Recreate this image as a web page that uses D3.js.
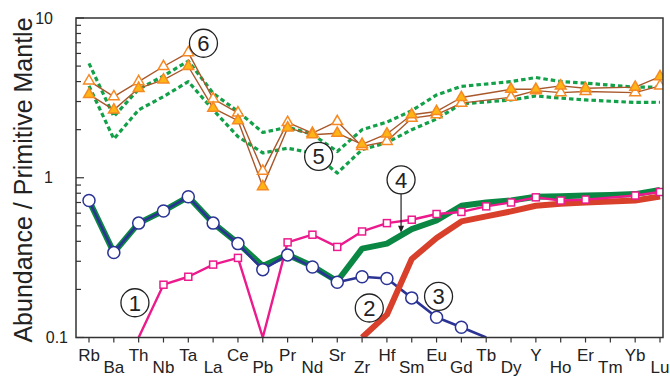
<!DOCTYPE html>
<html>
<head>
<meta charset="utf-8">
<script src="https://cdn.jsdelivr.net/npm/d3@7"></script>
<style>
    body { margin: 0; background: #fff; }
    svg { display: block; font-family: "Liberation Sans", Arial, Helvetica, sans-serif; }
</style>
</head>
<body>
<svg width="670" height="377"></svg>
<script>
// element order along the x axis
const elements = ["Rb", "Ba", "Th", "Nb", "Ta", "La", "Ce", "Pb", "Pr", "Nd", "Sr", "Zr",
                  "Hf", "Sm", "Eu", "Gd", "Tb", "Dy", "Y", "Ho", "Er", "Tm", "Yb", "Lu"];
const yTicks = [0.1, 1, 10];

// (1) pink squares
const series1 = [null, null, 0.1, 0.214, 0.24, 0.286, 0.315, 0.1, 0.394, 0.44, 0.369, 0.461,
                 0.52, 0.546, 0.593, 0.611, 0.662, 0.70, 0.754, 0.72, 0.73, null, 0.774, 0.814];
// (2) thick red
const series2 = [null, null, null, null, null, null, null, null, null, null, null, 0.1,
                 0.139, 0.31, 0.42, 0.533, 0.573, 0.616, 0.668, 0.688, 0.70, 0.71, 0.72, 0.764];
// (3) blue circles
const series3 = [0.72, 0.34, 0.52, 0.62, 0.76, 0.52, 0.387, 0.266, 0.329, 0.276, 0.222, 0.24,
                 0.234, 0.177, 0.134, 0.116, 0.1, null, null, null, null, null, null, null];
// (4) thick green
const series4 = [0.72, 0.34, 0.52, 0.62, 0.76, 0.52, 0.39, 0.28, 0.33, 0.28, 0.225, 0.36,
                 0.387, 0.477, 0.54, 0.668, 0.70, 0.72, 0.76, 0.765, 0.775, 0.78, 0.79, 0.84];
// (5) dotted green envelope
const series5a = [5.2, 2.42, 3.58, 4.34, 5.38, 3.38, 2.6, 1.92, 2.07, 1.87, 1.46, 2.0,
                  2.23, 2.63, 3.3, 3.73, null, 4.0, 4.24, 4.0, 3.91, null, 3.69, 3.69];
const series5b = [3.76, 1.75, 2.66, 3.22, 4.0, 2.66, 1.81, 1.43, 1.53, 1.43, 1.07, 1.5,
                  1.66, 2.0, 2.33, 2.9, null, 3.07, 3.25, 3.15, 3.07, null, 2.96, 2.97];
// (6) triangles, open and filled
const series6a = [4.04, 3.22, 4.0, 4.97, 6.07, 3.12, 2.55, 1.10, 2.22, 1.90, 2.25, 1.57,
                  1.69, 2.36, 2.48, 2.93, null, 3.19, 3.51, 3.41, 3.47, null, 3.41, 3.76];
const series6b = [3.33, 2.66, 3.63, 4.1, 4.97, 2.73, 2.28, 0.88, 2.05, 1.86, 1.90, 1.62,
                  1.88, 2.48, 2.6, 3.18, null, 3.58, 3.58, 3.76, 3.63, null, 3.69, 4.30];

// numbered callouts, in element-index / value units
const callouts = [
    {text: "6", i: 4.61, v: 6.95},
    {text: "5", i: 9.25, v: 1.36},
    {text: "4", i: 12.57, v: 0.97, arrowTo: 0.453},
    {text: "1", i: 1.85, v: 0.165},
    {text: "2", i: 11.29, v: 0.153},
    {text: "3", i: 14.08, v: 0.181}
];

const svg = d3.select("svg");
const margin = {left: 76, top: 18, right: 7, bottom: 39.5};
const width = 670 - margin.left - margin.right;
const height = 377 - margin.top - margin.bottom;

const g = svg.append("g").attr("transform", `translate(${margin.left},${margin.top})`);

const x = d3.scalePoint().domain(elements).range([13, 584]);
const y = d3.scaleLog().domain([0.1, 10]).range([height, 0]);
const xi = (i) => x(elements[0]) + i * x.step();

g.append("clipPath").attr("id", "plot")
    .append("rect").attr("width", width).attr("height", height);

const plot = g.append("g").attr("clip-path", "url(#plot)");

function toPoints (vals) {
    return vals.map((v, i) => ({el: elements[i], v: v})).filter(d => d.v !== null);
}

const line = d3.line().x(d => x(d.el)).y(d => y(d.v));

function drawLine (vals, color, w, dash) {
    plot.append("path")
        .attr("d", line(toPoints(vals)))
        .attr("fill", "none")
        .attr("stroke", color)
        .attr("stroke-width", w)
        .attr("stroke-linejoin", "round")
        .attr("stroke-dasharray", dash || null);
}

// dotted envelope
drawLine(series5a, "#12a049", 3.2, "4.5,3");
drawLine(series5b, "#12a049", 3.2, "4.5,3");

// brown lines with triangles
drawLine(series6a, "#a9582b", 1.4);
drawLine(series6b, "#a9582b", 1.4);
const tri = d3.symbol().type(d3.symbolTriangle).size(50);
plot.selectAll(".tri-a")
        .data(toPoints(series6a))
    .enter().append("path")
        .attr("transform", d => `translate(${x(d.el)},${y(d.v)})`)
        .attr("d", tri)
        .attr("fill", "#fff")
        .attr("stroke", "#f58a25")
        .attr("stroke-width", 1.5);
plot.selectAll(".tri-b")
        .data(toPoints(series6b))
    .enter().append("path")
        .attr("transform", d => `translate(${x(d.el)},${y(d.v)})`)
        .attr("d", tri)
        .attr("fill", "#fcb515")
        .attr("stroke", "#f58a25")
        .attr("stroke-width", 1.5);

// model curves
drawLine(series4, "#0a8743", 6);
drawLine(series3, "#2b3495", 2.6);
drawLine(series2, "#d8402c", 6);
drawLine(series1, "#ec1a8c", 2.4);

plot.selectAll(".circ")
        .data(toPoints(series3).filter(d => d.v > 0.1))
    .enter().append("circle")
        .attr("cx", d => x(d.el))
        .attr("cy", d => y(d.v))
        .attr("r", 6)
        .attr("fill", "#fff")
        .attr("stroke", "#2b3495")
        .attr("stroke-width", 1.5);

plot.selectAll(".sq")
        .data(toPoints(series1).filter(d => d.v > 0.1))
    .enter().append("rect")
        .attr("x", d => x(d.el) - 3.5)
        .attr("y", d => y(d.v) - 3.5)
        .attr("width", 7)
        .attr("height", 7)
        .attr("fill", "#fff")
        .attr("stroke", "#ec1a8c")
        .attr("stroke-width", 1.5);

// frame
g.append("rect")
    .attr("width", width).attr("height", height)
    .attr("fill", "none").attr("stroke", "#333").attr("stroke-width", 1.5);

// y axis: inward ticks, minor ticks at 2..9
const yAxis = g.append("g");
const minor = [];
for (let d = 0.1; d < 10; d *= 10) {
    for (let k = 2; k <= 9; k++) minor.push(d * k);
}
yAxis.selectAll(".minor")
        .data(minor)
    .enter().append("line")
        .attr("x1", 0).attr("x2", 5)
        .attr("y1", d => y(d)).attr("y2", d => y(d))
        .attr("stroke", "#333").attr("stroke-width", 1.2);
yAxis.selectAll(".major")
        .data(yTicks)
    .enter().append("line")
        .attr("x1", 0).attr("x2", 8)
        .attr("y1", d => y(d)).attr("y2", d => y(d))
        .attr("stroke", "#333").attr("stroke-width", 1.2);
yAxis.selectAll("text")
        .data(yTicks)
    .enter().append("text")
        .attr("x", d => d < 1 ? -8 : -23)
        .attr("y", d => y(d))
        .attr("dy", "0.35em")
        .attr("text-anchor", "end")
        .attr("font-size", 16)
        .attr("fill", "#222")
        .text(d => d3.format("~g")(d));

// x axis: outward ticks, labels staggered
const xAxis = g.append("g").attr("transform", `translate(0,${height})`);
xAxis.selectAll("line")
        .data(elements)
    .enter().append("line")
        .attr("x1", d => x(d)).attr("x2", d => x(d))
        .attr("y1", 0).attr("y2", 5)
        .attr("stroke", "#333").attr("stroke-width", 1.2);
xAxis.selectAll("text")
        .data(elements)
    .enter().append("text")
        .attr("x", d => x(d))
        .attr("y", (d, i) => i % 2 === 0 ? 23.5 : 35.5)
        .attr("text-anchor", "middle")
        .attr("font-size", 17)
        .attr("fill", "#222")
        .text(d => d);

svg.append("text")
    .attr("transform", "translate(32,180) rotate(-90)")
    .attr("text-anchor", "middle")
    .attr("font-size", 25)
    .attr("fill", "#222")
    .text("Abundance / Primitive Mantle");

// callouts
const co = g.append("g");
callouts.filter(d => d.arrowTo).forEach(d => {
    const x0 = xi(d.i);
    const y1 = y(d.arrowTo);
    co.append("line")
        .attr("x1", x0).attr("x2", x0)
        .attr("y1", y(d.v) + 14).attr("y2", y1 - 3)
        .attr("stroke", "#222").attr("stroke-width", 1.2);
    co.append("path")
        .attr("d", `M${x0 - 3},${y1 - 7}L${x0 + 3},${y1 - 7}L${x0},${y1}Z`)
        .attr("fill", "#222");
});
co.selectAll("circle")
        .data(callouts)
    .enter().append("circle")
        .attr("cx", d => xi(d.i))
        .attr("cy", d => y(d.v))
        .attr("r", 14)
        .attr("fill", "#fff")
        .attr("stroke", "#222")
        .attr("stroke-width", 1.3);
co.selectAll("text")
        .data(callouts)
    .enter().append("text")
        .attr("x", d => xi(d.i))
        .attr("y", d => y(d.v))
        .attr("dy", "0.36em")
        .attr("text-anchor", "middle")
        .attr("font-size", 22)
        .attr("fill", "#222")
        .text(d => d.text);
</script>
</body>
</html>
